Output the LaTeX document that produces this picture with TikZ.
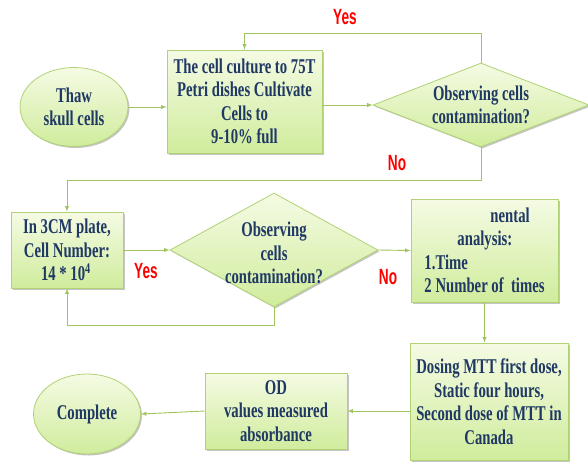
\documentclass[tikz,border=0pt]{standalone}
\usepackage{fontspec}
\setmainfont{Liberation Serif}[FakeStretch=0.7]
\newfontfamily\answerfont{Liberation Sans}[FakeStretch=0.62]
\usepackage{xcolor}
\usepackage{tikz}
\usetikzlibrary{shapes.geometric, shadows, positioning}

\definecolor{boxtop}{RGB}{245,251,228}
\definecolor{boxbot}{RGB}{208,236,156}
\definecolor{boxline}{RGB}{176,210,116}
\definecolor{inkblue}{RGB}{31,56,100}
\definecolor{linkgreen}{RGB}{160,196,96}

\tikzset{
  shapebase/.style={draw=boxline, line width=0.8pt, top color=boxtop, bottom color=boxbot,
    drop shadow={shadow xshift=1.5pt, shadow yshift=-1.5pt, fill=black!45}},
  flowbox/.style={shapebase, rectangle, inner sep=0pt, align=center},
  startstop/.style={shapebase, ellipse, inner sep=0pt, align=center},
  decision/.style={shapebase, diamond, inner sep=0pt},
  words/.style={text=inkblue, font=\bfseries\fontsize{21}{23.5}\selectfont, align=center},
  link/.style={draw=linkgreen, line width=0.9pt, ->},
  answer/.style={text=red, font=\answerfont\bfseries\fontsize{22}{24}\selectfont}
}

\begin{document}
\begin{tikzpicture}[>=latex, x=1pt, y=-1pt]
    \useasboundingbox (0,0) rectangle (588,461);

    % 1. Start and first culture step
    \node[startstop, minimum width=108, minimum height=79] (thaw) at (74,107) {};
    \node[words] (thawtext) at (thaw) {Thaw\\skull cells};
    \node[flowbox, minimum width=155, minimum height=103] (culture) at (244.5,101.5) {};
    \node[words] (culturetext) at (culture) {The cell culture to 75T\\Petri dishes Cultivate\\Cells to\\9-10\% full};

    % 2. First check
    \node[decision, minimum width=216, minimum height=84] (check1) at (481,105) {};
    \node[words] (check1text) at (check1) {Observing cells\\contamination?};

    % 3. Seeding and second check
    \node[flowbox, minimum width=112, minimum height=76] (seed) at (67,250) {};
    \node[words] (seedtext) at (seed) {In 3CM plate,\\Cell Number:\\14 * 10$^{\mathbf{4}}$};
    \node[decision, minimum width=208, minimum height=114] (check2) at (274,250) {};
    \node[words] (check2text) at ([yshift=-3pt]check2.center) {Observing\\cells\\contamination?};

    % 4. Analysis, dosing, reading
    \node[flowbox, minimum width=147, minimum height=103] (analysis) at (484.5,250.5) {};
    \node[words, align=left] (analysistext) at (analysis) {\hspace*{66pt}nental\\\hspace*{33pt}analysis:\\1.Time\\2 Number of\ \ times};
    \node[flowbox, minimum width=158, minimum height=117] (dosing) at (489,401.5) {};
    \node[words] (dosingtext) at (dosing) {Dosing MTT first dose,\\Static four hours,\\Second dose of MTT in\\Canada};
    \node[flowbox, minimum width=142, minimum height=76] (od) at (276,411) {};
    \node[words] (odtext) at (od) {OD\\values measured\\absorbance};
    \node[startstop, minimum width=107, minimum height=80] (done) at (87,414) {};
    \node[words] (donetext) at (done) {Complete};

    % 5. Turning points of the loops
    \coordinate (yesturn) at (244.5,33);
    \coordinate (noturn) at (67,180);
    \coordinate (yesturnb) at (67,325);

    % 6. Connectors
    \draw[link] (thaw.east) -- (thaw.east -| culture.west);
    \draw[link] (check1.west -| culture.east) -- (check1.west);
    \draw[link] (check1.north) |- (yesturn) -- (culture.north);
    \draw[link] (check1.south) |- (noturn) -- (seed.north);
    \draw[link] (seed.east) -- (check2.west);
    \draw[link] (check2.south) |- (yesturnb) -- (seed.south);
    \draw[link] (check2.east) -- (analysis.west);
    \draw[link] (analysis.south) -- (analysis.south |- dosing.north);
    \draw[link] (dosing.west |- od.east) -- (od.east);
    \draw[link] (od.west) -- (done.east);

    % 7. Yes / No labels
    \node[answer] (yesa) at (345,17) {Yes};
    \node[answer] (noa) at (397,163) {No};
    \node[answer] (yesb) at (146,271) {Yes};
    \node[answer] (nob) at (388,277) {No};

\end{tikzpicture}
\end{document}
